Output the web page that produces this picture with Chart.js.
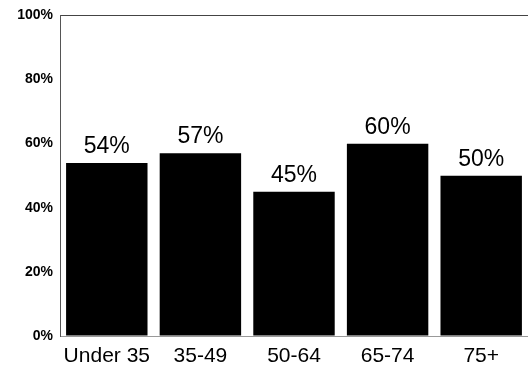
<!DOCTYPE html>
<html>
<head>
<meta charset="utf-8">
<script src="https://cdn.jsdelivr.net/npm/chart.js@4/dist/chart.umd.min.js"></script>
<style>
  html, body { margin: 0; padding: 0; background: #fff; }
  #wrap { width: 528px; height: 371px; position: relative; }
</style>
</head>
<body>
<div id="wrap"><canvas id="chart"></canvas></div>
<script>
// data
const ageGroups = ['Under 35', '35-49', '50-64', '65-74', '75+'];
const shares = [54, 57, 45, 60, 50];
const yTicks = [0, 20, 40, 60, 80, 100];

const FONT = '"Liberation Sans", Arial, Helvetica, sans-serif';

// percent labels above each bar
const valueLabels = {
    id: 'valueLabels',
    afterDatasetsDraw(chart) {
        const ctx = chart.ctx;
        const meta = chart.getDatasetMeta(0);
        ctx.save();
        ctx.fillStyle = '#000';
        ctx.font = '23px ' + FONT;
        ctx.textAlign = 'center';
        ctx.textBaseline = 'alphabetic';
        meta.data.forEach((bar, i) => {
            ctx.fillText(shares[i] + '%', bar.x, bar.y - 10);
        });
        ctx.restore();
    }
};

new Chart(document.getElementById('chart'), {
    type: 'bar',
    data: {
        labels: ageGroups,
        datasets: [{
            data: shares,
            backgroundColor: '#000',
            borderWidth: 0,
            categoryPercentage: 1,
            barPercentage: 0.87
        }]
    },
    options: {
        responsive: true,
        maintainAspectRatio: false,
        animation: false,
        layout: { padding: { top: 6, right: 0, bottom: 0, left: 0 } },
        plugins: {
            legend: { display: false },
            tooltip: { enabled: false }
        },
        scales: {
            x: {
                afterFit: scale => { scale.height = 35; },
                grid: { display: false },
                border: { display: true, color: '#999', width: 1 },
                ticks: {
                    color: '#000',
                    padding: 0,
                    font: { family: FONT, size: 21 },
                    maxRotation: 0
                }
            },
            y: {
                min: 0,
                max: 100,
                afterBuildTicks: scale => { scale.ticks = yTicks.map(v => ({ value: v })); },
                afterFit: scale => { scale.width = 60; },
                grid: {
                    drawOnChartArea: true,
                    drawTicks: false,
                    color: ctx => ctx.tick && ctx.tick.value === 100 ? '#444' : 'rgba(0,0,0,0)'
                },
                border: { display: true, color: '#555', width: 1 },
                ticks: {
                    color: '#000',
                    padding: 7,
                    font: { family: FONT, size: 14, weight: 'bold' },
                    callback: v => v + '%'
                }
            }
        }
    },
    plugins: [valueLabels]
});
</script>
</body>
</html>
